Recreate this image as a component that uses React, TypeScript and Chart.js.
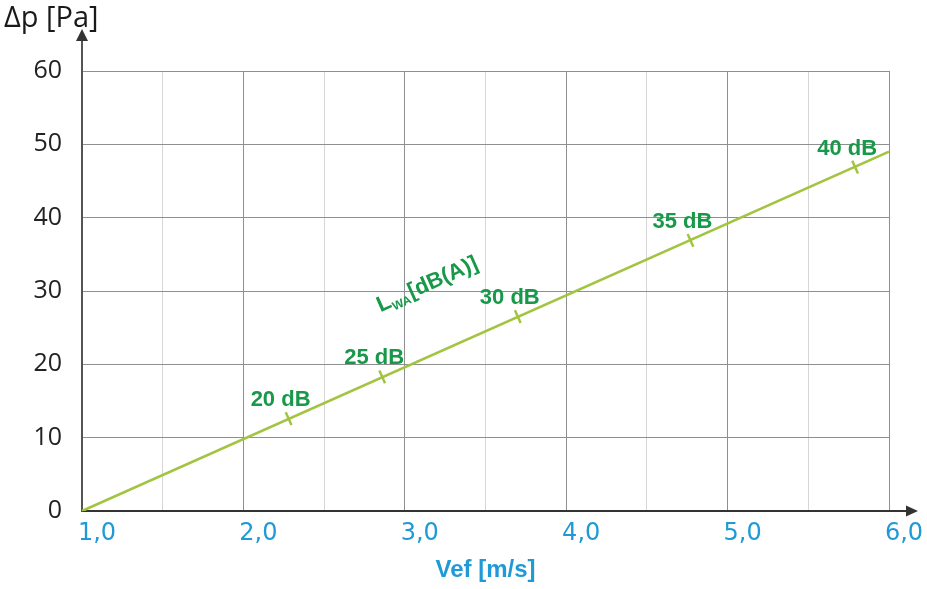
import React, { useEffect, useRef } from 'react';
import { Chart, registerables } from 'chart.js';

Chart.register(...registerables);

// ---- data ----
const lineX = [1.0, 6.0];
const lineY = [0, 49];
const markerX = [2.28, 2.86, 3.7, 4.77, 5.79];
const markerY = [12.6, 18.3, 26.5, 36.9, 46.9];
const markerLabels = ['20 dB', '25 dB', '30 dB', '35 dB', '40 dB'];
const xMin = 1;
const xMax = 6;
const xStep = 0.5;
const yMin = 0;
const yMax = 60;
const yStep = 10;
const yTitle = 'Δp [Pa]';
const xTitle = 'Vef [m/s]';
const curveLabelMain = 'L';
const curveLabelSub = 'WA';
const curveLabelUnit = '[dB(A)]';
const curveLabelAt = { x: 2.85, y: 27.1 };

const LINE_COLOR = '#a2c440';
const GREEN = '#18994a';
const BLUE = '#1f9ad6';

const overlay = {
  id: 'overlay',
  afterDraw(chart: any) {
    const { ctx, chartArea } = chart;
    const x = chart.scales.x;
    const y = chart.scales.y;
    ctx.save();
    // y axis extension + arrow
    const left = chartArea.left;
    ctx.strokeStyle = '#555';
    ctx.lineWidth = 2;
    ctx.beginPath();
    ctx.moveTo(left, chartArea.top + 1);
    ctx.lineTo(left, 40);
    ctx.stroke();
    ctx.fillStyle = '#333';
    ctx.beginPath();
    ctx.moveTo(left, 29);
    ctx.lineTo(left - 6, 41);
    ctx.lineTo(left + 6, 41);
    ctx.closePath();
    ctx.fill();
    // x axis extension + arrow
    const bottom = chartArea.bottom;
    ctx.strokeStyle = '#333';
    ctx.beginPath();
    ctx.moveTo(chartArea.right - 1, bottom);
    ctx.lineTo(907, bottom);
    ctx.stroke();
    ctx.beginPath();
    ctx.moveTo(918, bottom);
    ctx.lineTo(906, bottom - 5.5);
    ctx.lineTo(906, bottom + 5.5);
    ctx.closePath();
    ctx.fill();
    // y title
    ctx.fillStyle = '#1a1a1a';
    ctx.font = '29px "Open Sans"';
    ctx.textAlign = 'left';
    ctx.textBaseline = 'alphabetic';
    ctx.fillText(yTitle, 4, 27);
    // marker labels
    ctx.fillStyle = GREEN;
    ctx.font = 'bold 22px "Liberation Sans"';
    ctx.textAlign = 'center';
    for (let i = 0; i < markerX.length; i++) {
      const px = x.getPixelForValue(markerX[i]) - 8;
      const py = y.getPixelForValue(markerY[i]) - 12.5;
      ctx.fillText(markerLabels[i], px, py);
    }
    // curve label
    const lx = x.getPixelForValue(curveLabelAt.x);
    const ly = y.getPixelForValue(curveLabelAt.y);
    ctx.translate(lx, ly);
    ctx.rotate((-24 * Math.PI) / 180);
    ctx.textAlign = 'left';
    ctx.font = 'bold 22px "Liberation Sans"';
    ctx.fillText(curveLabelMain, 0, 0);
    let w = ctx.measureText(curveLabelMain).width;
    ctx.font = 'bold 12px "Liberation Sans"';
    ctx.fillText(curveLabelSub, w, 4);
    w += ctx.measureText(curveLabelSub).width + 1;
    ctx.font = 'bold 22px "Liberation Sans"';
    ctx.fillText(curveLabelUnit, w, 0);
    ctx.restore();
  },
};

export default function App() {
  const ref = useRef<HTMLCanvasElement | null>(null);
  useEffect(() => {
    if (!ref.current) return;
    const chart = new Chart(ref.current, {
      type: 'scatter',
      data: {
        datasets: [
          {
            data: lineX.map((v, i) => ({ x: v, y: lineY[i] })),
            showLine: true,
            borderColor: LINE_COLOR,
            borderWidth: 2.6,
            pointRadius: 0,
          },
          {
            data: markerX.map((v, i) => ({ x: v, y: markerY[i] })),
            showLine: false,
            pointStyle: 'line',
            rotation: 66,
            pointRadius: 7,
            borderColor: LINE_COLOR,
            borderWidth: 2.5,
          },
        ],
      } as any,
      options: {
        animation: false,
        responsive: true,
        maintainAspectRatio: false,
        layout: { padding: { top: 71, right: 38, bottom: 4, left: 0 } },
        plugins: { legend: { display: false }, tooltip: { enabled: false } },
        scales: {
          x: {
            type: 'linear',
            min: xMin,
            max: xMax,
            ticks: {
              stepSize: xStep,
              autoSkip: false,
              maxRotation: 0,
              padding: 8,
              labelOffset: 15,
              color: BLUE,
              font: { family: 'DejaVu Sans', size: 24 },
              callback: (v: any) =>
                Number.isInteger(Number(v)) ? Number(v).toFixed(1).replace('.', ',') : '',
            },
            grid: {
              drawTicks: false,
              lineWidth: 1,
              color: (c: any) =>
                c.tick && Number.isInteger(c.tick.value) ? '#8f8f8f' : '#d6d6d6',
            },
            border: { display: true, color: '#333', width: 2 },
            title: {
              display: true,
              text: xTitle,
              color: BLUE,
              font: { family: 'Liberation Sans', size: 24, weight: 'bold' },
              padding: 0,
            },
            afterFit: (s: any) => {
              s.height = 74;
            },
          },
          y: {
            min: yMin,
            max: yMax,
            ticks: {
              stepSize: yStep,
              padding: 20,
              color: '#222',
              font: { family: 'Open Sans', size: 25 },
            },
            grid: { drawTicks: false, color: '#8f8f8f', lineWidth: 1 },
            border: { display: true, color: '#555', width: 2 },
            afterFit: (s: any) => {
              s.width = 82;
            },
          },
        },
      } as any,
      plugins: [overlay],
    });
    return () => chart.destroy();
  }, []);
  return (
    <div style={{ position: 'absolute', left: 0, top: 0, width: 927, height: 589, background: '#fff' }}>
      <canvas ref={ref} />
    </div>
  );
}
